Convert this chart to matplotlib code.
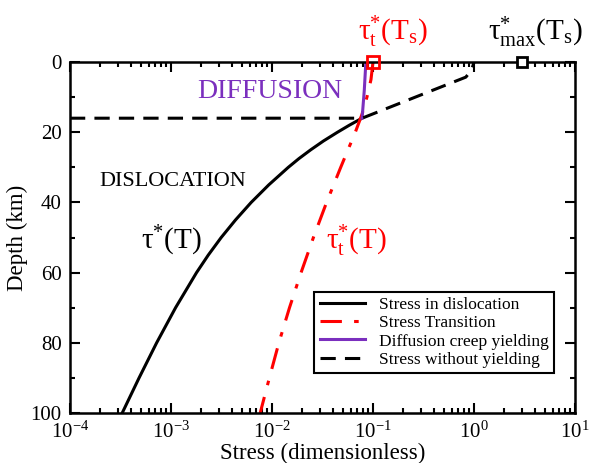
import numpy as np
import matplotlib
matplotlib.use("Agg")
import matplotlib.pyplot as plt
from matplotlib.ticker import LogLocator, MultipleLocator, NullFormatter

plt.rcParams['font.family'] = ['Liberation Serif', 'DejaVu Serif']
plt.rcParams['mathtext.fontset'] = 'custom'
plt.rcParams['mathtext.rm'] = 'Liberation Serif'
plt.rcParams['mathtext.it'] = 'Liberation Serif:italic'

# stress in dislocation creep
disl_depth = [16, 18, 20, 22.5, 25, 27.5, 30, 35, 40, 45, 50, 55, 60, 70, 80, 90, 100]
disl_stress = [0.0778, 0.0583, 0.0445, 0.0323, 0.0242, 0.0185, 0.0145, 0.00929, 0.00622,
               0.00435, 0.00314, 0.00234, 0.00179, 0.00111, 0.000721, 0.000483, 0.000329]

# transition stress
trans_depth = [0, 5, 10, 15, 20, 30, 40, 50, 60, 70, 80, 90, 100]
trans_stress = [0.1, 0.0955, 0.0871, 0.0776, 0.0668, 0.0479, 0.0347, 0.0257, 0.0194,
                0.0149, 0.0117, 0.00942, 0.00764]

# diffusion creep yielding
diff_depth = [0, 8, 16]
diff_stress = [0.085, 0.082, 0.078]

# stress without yielding
noyield_depth = [16, 16, 12, 8, 4.3, 2.5, 1, 0]
noyield_stress = [1e-4, 0.078, 0.175, 0.393, 0.83, 0.933, 0.977, 1.0]

# surface values
tau_t_s = 0.1
tau_max_s = 3.0

purple = '#7b2fbe'

fig = plt.figure(figsize=(5.90, 4.63), dpi=100)
ax = fig.add_axes([0.1186, 0.108, 0.856, 0.758])

ax.plot(disl_stress, disl_depth, color='black', lw=2.2, label='Stress in dislocation')
ax.plot(trans_stress, trans_depth, color='red', lw=2.2, dashes=(7, 4, 1.5, 4),
        label='Stress Transition')
ax.plot(diff_stress, diff_depth, color=purple, lw=2.2, label='Diffusion creep yielding')
ax.plot(noyield_stress, noyield_depth, color='black', lw=2.2, dashes=(5, 3),
        label='Stress without yielding')

ax.plot([tau_t_s], [0], marker='s', ms=8, mfc='none', mec='red', mew=2, clip_on=False, zorder=5)
ax.plot([tau_max_s], [0], marker='s', ms=7, mfc='white', mec='black', mew=2, clip_on=False, zorder=5)

ax.set_xscale('log')
ax.set_xlim(1e-4, 10)
ax.set_ylim(100, 0)
ax.xaxis.set_major_locator(LogLocator(base=10, numticks=10))
ax.xaxis.set_minor_locator(LogLocator(base=10, subs=np.arange(2, 10), numticks=20))
ax.xaxis.set_minor_formatter(NullFormatter())
ax.yaxis.set_major_locator(MultipleLocator(20))
ax.yaxis.set_minor_locator(MultipleLocator(10))
ax.tick_params(which='both', direction='in', top=True, right=True, width=1.5, labelsize=15)
ax.tick_params(which='major', length=7, pad=6)
ax.tick_params(which='minor', length=3.5)
for s in ax.spines.values():
    s.set_linewidth(1.8)

ax.set_xlabel('Stress (dimensionless)', fontsize=16.5, labelpad=0)
ax.set_ylabel('Depth (km)', fontsize=16.5, labelpad=2)

ax.text(9.5e-3, 8.5, 'DIFFUSION', color=purple, fontsize=20, ha='center', va='center')
ax.text(1.05e-3, 34, 'DISLOCATION', color='black', fontsize=16, ha='center', va='center')
ax.text(1.0e-3, 51, r'τ$^{*}$(T)', color='black', fontsize=21, ha='center', va='center')
ax.text(0.068, 51, r'τ$^{*}_{\mathrm{t}}$(T)', color='red', fontsize=21, ha='center', va='center')
ax.text(0.158, -8.5, r'τ$^{*}_{\mathrm{t}}$(T$_{\mathrm{s}}$)', color='red', fontsize=21,
        ha='center', va='center', clip_on=False)
ax.text(4.0, -8.5, r'τ$^{*}_{\mathrm{max}}$(T$_{\mathrm{s}}$)', color='black', fontsize=21,
        ha='center', va='center', clip_on=False)

leg = ax.legend(loc='lower right', bbox_to_anchor=(0.958, 0.114), borderaxespad=0,
                fontsize=12.5, handlelength=2.6, labelspacing=0.12, borderpad=0.3,
                fancybox=False, framealpha=1, edgecolor='black')
leg.get_frame().set_linewidth(1.5)

fig.savefig('out.png', dpi=100)
